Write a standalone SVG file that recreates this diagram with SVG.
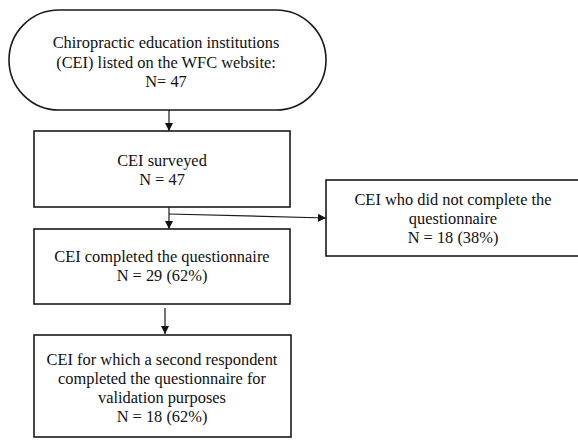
<svg xmlns="http://www.w3.org/2000/svg" width="578" height="441" viewBox="0 0 578 441">
<style>
.box{fill:#fff;stroke:#1a1a1a;stroke-width:1.6}
text{font-family:'Liberation Serif','Times New Roman',Times,serif;font-size:16.4px;fill:#111;text-anchor:middle}
.c{fill:none;stroke:#1a1a1a;stroke-width:1.2}
</style>
<defs>
<marker id="ah" viewBox="0 0 10 10" refX="10" refY="5" markerWidth="8" markerHeight="8" markerUnits="userSpaceOnUse" orient="auto">
<path d="M0,0 L10,5 L0,10 z" fill="#111"/>
</marker>
</defs>
<rect width="578" height="441" fill="#fff"/>
<g id="connectors">
<line class="c" x1="169" y1="110" x2="169" y2="131" marker-end="url(#ah)"/>
<line class="c" x1="169" y1="207" x2="169" y2="229" marker-end="url(#ah)"/>
<line class="c" x1="169" y1="214" x2="326" y2="218" marker-end="url(#ah)"/>
<line class="c" x1="165" y1="308" x2="165" y2="334" marker-end="url(#ah)"/>
</g>
<g id="n1">
<rect class="box" x="9" y="10" width="317" height="100" rx="50" ry="50"/>
<text x="166" y="48">Chiropractic education institutions</text>
<text x="166" y="68">(CEI) listed on the WFC website:</text>
<text x="166" y="87">N= 47</text>
</g>
<g id="n2">
<rect class="box" x="34" y="131" width="256" height="76"/>
<text x="162" y="166">CEI surveyed</text>
<text x="162" y="185">N = 47</text>
</g>
<g id="n3">
<rect class="box" x="326" y="180" width="260" height="76"/>
<text x="453" y="205">CEI who did not complete the</text>
<text x="453" y="224">questionnaire</text>
<text x="453" y="243">N = 18 (38%)</text>
</g>
<g id="n4">
<rect class="box" x="34" y="229" width="256" height="75"/>
<text x="162" y="262">CEI completed the questionnaire</text>
<text x="162" y="281">N = 29 (62%)</text>
</g>
<g id="n5">
<rect class="box" x="34" y="335" width="257" height="102"/>
<text x="162" y="365">CEI for which a second respondent</text>
<text x="162" y="384">completed the questionnaire for</text>
<text x="162" y="403">validation purposes</text>
<text x="162" y="422">N = 18 (62%)</text>
</g>
</svg>
